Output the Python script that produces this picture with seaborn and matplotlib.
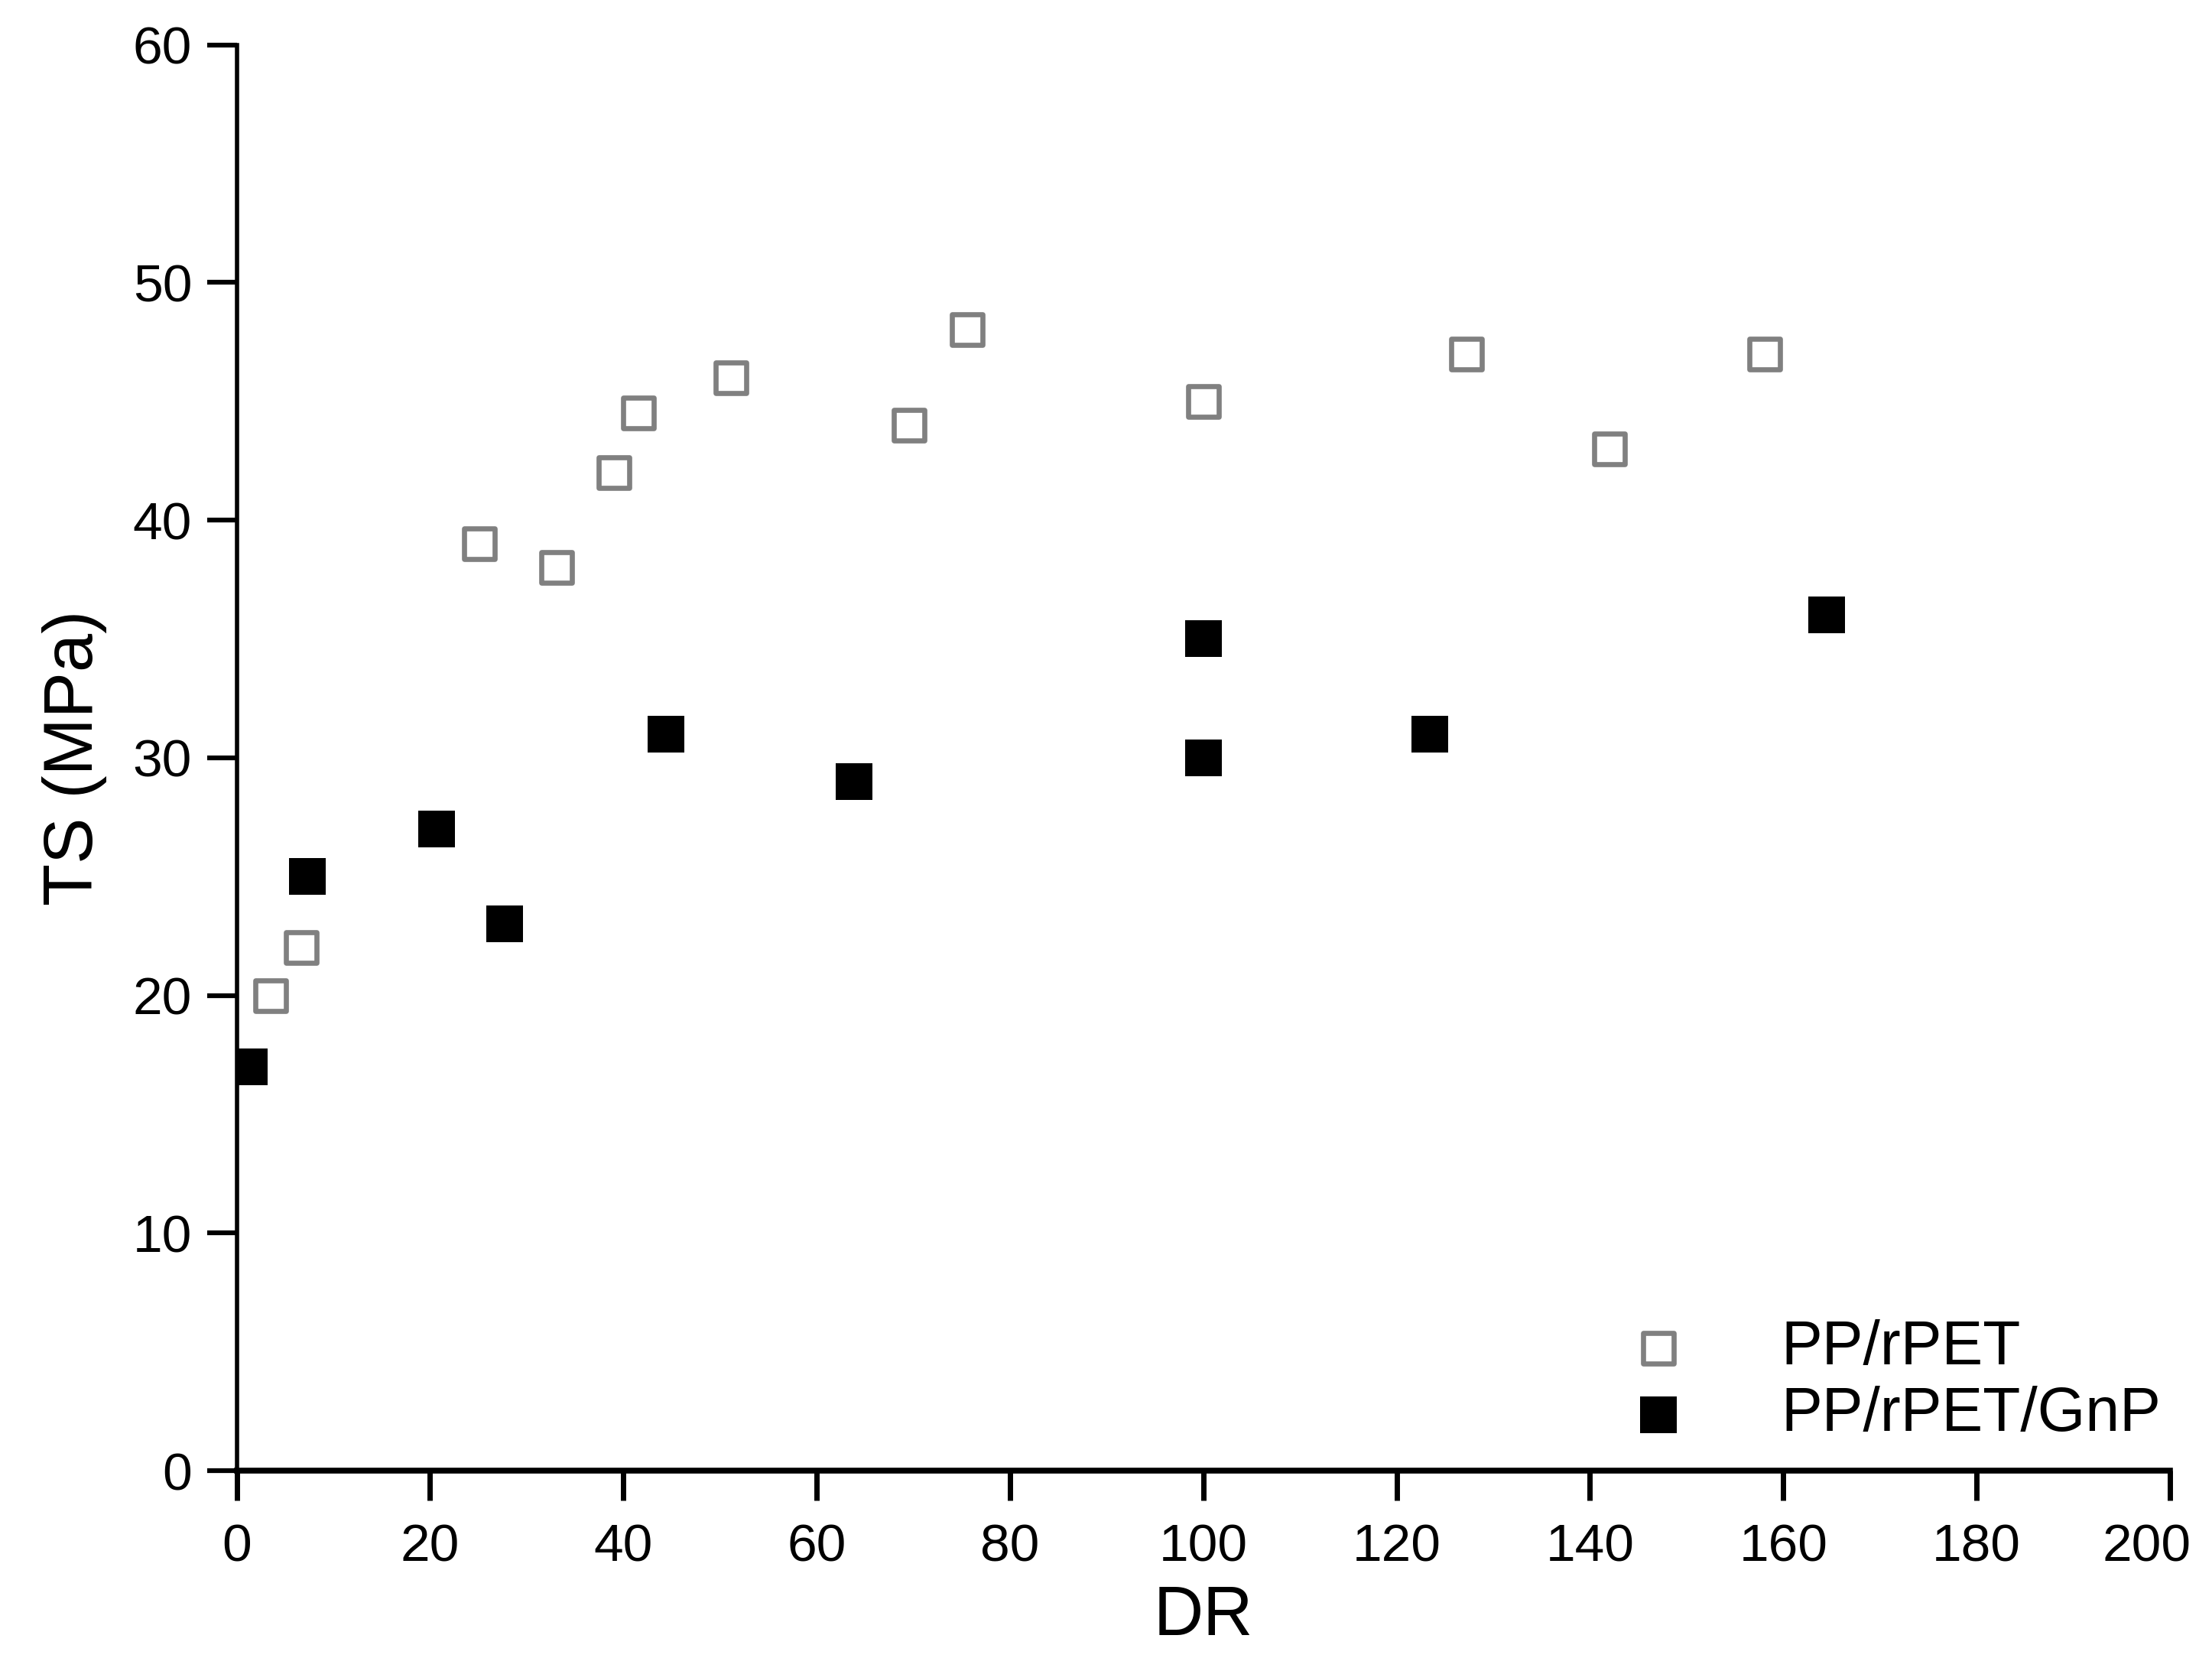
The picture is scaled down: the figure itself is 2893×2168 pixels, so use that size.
import numpy as np
import pandas as pd
import matplotlib
matplotlib.use("Agg")
import matplotlib.pyplot as plt
import matplotlib.transforms as mtransforms
import seaborn as sns

# ====================== DATA ======================
dr_pp = [3.5, 6.7, 25.1, 33.1, 39.0, 41.6, 51.1, 69.6, 75.6, 100.0, 127.2, 142.0, 158.1]
ts_pp = [20.0, 22.0, 39.0, 38.0, 42.0, 44.5, 46.0, 44.0, 48.0, 45.0, 47.0, 43.0, 47.0]

dr_gnp = [1.3, 7.3, 20.7, 27.7, 44.4, 63.9, 100.0, 100.0, 123.4, 164.5]
ts_gnp = [17.0, 25.0, 27.0, 23.0, 31.0, 29.0, 35.0, 30.0, 31.0, 36.0]

series_names = ['PP/rPET', 'PP/rPET/GnP']
x_ticks = list(range(0, 201, 20))
y_ticks = list(range(0, 61, 10))

df = pd.concat([
    pd.DataFrame({'DR': dr_pp, 'TS': ts_pp, 'sample': series_names[0]}),
    pd.DataFrame({'DR': dr_gnp, 'TS': ts_gnp, 'sample': series_names[1]}),
], ignore_index=True)

sns.set_style("white")
plt.rcParams['font.family'] = ['Liberation Sans', 'DejaVu Sans']
plt.rcParams['text.color'] = 'black'
plt.rcParams['axes.labelcolor'] = 'black'
plt.rcParams['xtick.color'] = 'black'
plt.rcParams['ytick.color'] = 'black'

fig = plt.figure(figsize=(28.93, 21.68), dpi=100)
ax = fig.add_axes([0.107, 0.113, 0.874, 0.86])

grey = '#808080'
sns.scatterplot(data=df[df['sample'] == series_names[0]], x='DR', y='TS', ax=ax,
                marker='s', s=29 ** 2, facecolor='white', edgecolor=grey, linewidth=4.8,
                label=series_names[0], zorder=3)
sns.scatterplot(data=df[df['sample'] == series_names[1]], x='DR', y='TS', ax=ax,
                marker='s', s=35 ** 2, color='black', edgecolor='black', linewidth=0,
                label=series_names[1], zorder=3)

ax.set_xlim(0, 200)
ax.set_ylim(0, 60)
ax.set_xticks(x_ticks)
ax.set_yticks(y_ticks)
ax.set_xlabel('DR', fontsize=65, labelpad=12)
ax.set_ylabel('TS (MPa)', fontsize=65, labelpad=24)
ax.tick_params(axis='both', labelsize=50, length=28, direction='out',
               bottom=True, left=True)
ax.tick_params(axis='x', pad=21, width=5)
ax.tick_params(axis='y', pad=14, width=4.5)

# nudge the last x label so it stays inside the figure, as in the original
lbl = ax.get_xticklabels()[-1]
lbl.set_transform(lbl.get_transform() + mtransforms.ScaledTranslation(-30 / 100, 0, fig.dpi_scale_trans))

for side in ['top', 'right']:
    ax.spines[side].set_visible(False)
ax.spines['left'].set_linewidth(4)
ax.spines['bottom'].set_linewidth(5.5)
ax.spines['left'].set_color('black')
ax.spines['bottom'].set_color('black')
ax.grid(False)

ax.legend(loc='upper left', bbox_to_anchor=(0.7218, 0.2043), bbox_transform=fig.transFigure,
          frameon=False, fontsize=58, handlelength=2.0, handletextpad=1.0,
          labelspacing=0.14, markerscale=1.0, borderpad=0, borderaxespad=0)

fig.savefig('out.png', dpi=100)
